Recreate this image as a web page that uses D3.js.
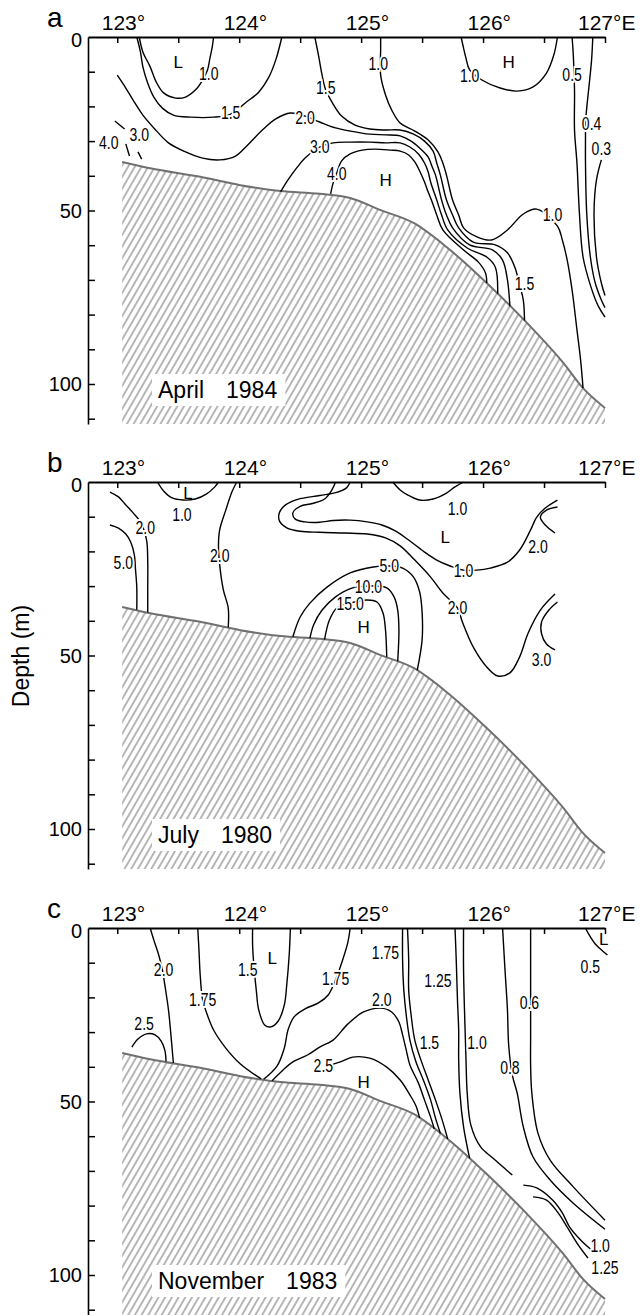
<!DOCTYPE html>
<meta charset="utf-8" />
<script src="https://d3js.org/d3.v7.min.js"></script>
<style>
  body { margin: 0; overflow: hidden; background: white; }
  svg { display: block; }
</style>
<div id="chart"></div>
<script>
  // ---- axes ----
  const lonTicks = [123, 123.5, 124, 124.5, 125, 125.5, 126, 126.5, 127];
  const lonLabels = [[123, "123°"], [124, "124°"], [125, "125°"], [126, "126°"], [127, "127°E"]];
  const depthTicks = [10, 20, 30, 40, 50, 60, 70, 80, 90, 100, 110];
  const depthLabels = [0, 50, 100];

  // bottom profile along the section [lon, depth m]
  const bathymetry = [[123.04,36.0],[123.27,37.8],[123.68,40.3],[124.01,42.7],[124.34,44.4],[124.66,45.2],
    [124.91,46.4],[125.16,49.9],[125.43,53.6],[125.70,60.5],[126.03,70.9],[126.36,82.4],[126.66,94.0],
    [126.82,101.2],[127.00,106.9]];

  // ---- a: April 1984 ----
  const aLines = [
    [[123.18,0],[123.21,4.3],[123.27,8.6],[123.32,13.0],[123.38,16.1],[123.48,17.6],[123.56,17.3],[123.64,15.3],[123.70,12.4],[123.74,9.5],[123.76,6.1],[123.78,2.6],[123.79,0]],
    [[123.16,0],[123.19,4.3],[123.21,8.6],[123.25,13.3],[123.30,17.3],[123.37,20.5],[123.46,22.5],[123.60,23.1],[123.79,23.1],[123.93,22.2],[124.05,19.0],[124.16,15.9],[124.24,11.8],[124.30,6.6],[124.35,0]],
    [[123.00,11.0],[123.07,14.7],[123.13,18.2],[123.21,22.5],[123.30,26.2],[123.42,30.5],[123.56,33.1],[123.70,34.9],[123.84,35.4],[123.97,34.3],[124.07,31.1],[124.19,26.8],[124.30,23.6],[124.42,21.9],[124.54,22.8],[124.66,24.5],[124.79,26.2],[124.91,27.1],[125.07,28.0],[125.20,28.2],[125.32,28.5],[125.41,30.0],[125.48,32.0],[125.55,34.6],[125.58,37.2],[125.61,39.8],[125.66,47.0],[125.70,51.3],[125.75,55.0],[125.89,59.9],[126.08,61.4],[126.16,64.3],[126.20,70.0],[126.22,77.6]],
    [[125.16,0],[125.16,3.7],[125.16,11.0],[125.20,16.7],[125.25,21.0],[125.32,24.8],[125.44,27.1],[125.55,29.7],[125.63,33.1],[125.67,36.3],[125.70,39.8],[125.75,47.0],[125.80,51.3],[125.84,55.0],[125.95,57.6],[126.07,58.5],[126.20,55.6],[126.33,51.0],[126.44,49.6],[126.61,54.5],[126.65,58.5],[126.69,64.3],[126.73,72.9],[126.77,84.4],[126.80,93.1],[126.82,101.2]],
    [[124.62,0],[124.65,5.2],[124.68,11.0],[124.71,15.3],[124.76,18.7],[124.84,22.8],[124.95,25.4],[125.07,26.5],[125.20,26.8],[125.32,26.8],[125.43,28.0],[125.52,30.0],[125.59,32.9],[125.62,36.3],[125.65,39.8],[125.70,47.0],[125.75,51.3],[125.80,55.0],[125.92,59.1],[126.10,59.9],[126.20,62.2],[126.26,66.3],[126.30,71.5],[126.33,75.8],[126.34,81.7]],
    [[124.34,44.6],[124.40,41.2],[124.47,37.8],[124.54,34.9],[124.66,31.7],[124.77,30.5],[124.91,30.3],[125.07,30.3],[125.20,30.5],[125.32,30.5],[125.40,31.7],[125.47,33.7],[125.52,36.3],[125.55,38.9],[125.57,41.8],[125.62,47.0],[125.66,51.3],[125.71,55.6],[125.87,60.8],[126.03,63.4],[126.10,66.3],[126.12,74.0]],
    [[124.75,45.2],[124.77,42.1],[124.80,39.2],[124.84,35.7],[124.91,33.7],[125.01,32.6],[125.11,32.3],[125.24,32.6],[125.32,32.9],[125.39,34.0],[125.44,36.0],[125.48,38.6],[125.52,41.8],[125.55,44.7],[125.58,47.3],[125.62,51.3],[125.67,55.6],[125.84,61.4],[125.96,64.8],[126.02,68.0],[126.03,70.9]],
    [[122.98,24.2],[123.06,26.5]],
    [[123.07,30.8],[123.10,34.3]],
    [[123.17,33.1],[123.20,35.2]],
    [[125.82,0],[125.84,3.2],[125.86,6.1],[125.89,9.5],[125.99,12.4],[126.14,14.7],[126.28,15.6],[126.41,14.4],[126.52,10.4],[126.58,5.2],[126.61,0]],
    [[126.73,0],[126.74,5.2],[126.75,15.3],[126.75,26.8],[126.77,36.3],[126.79,50.7],[126.82,63.4],[126.88,71.5],[126.94,77.2],[127.0,80.7]],
    [[126.90,0],[126.89,6.6],[126.87,13.8],[126.85,20.5],[126.84,24.8],[126.84,28.8],[126.84,36.3],[126.85,50.7],[126.88,63.4],[126.92,70.9],[126.97,75.8],[127.0,78.0]],
    [[126.97,35.4],[126.93,41.2],[126.91,50.7],[126.93,63.4],[126.97,70.9],[127.0,74.5]]
  ];
  const aLabels = [["1.0",123.75,10.4],["L",123.50,7.2],["1.5",123.93,21.9],["2.0",124.54,23.1],["1.5",124.71,14.7],
    ["1.0",125.14,7.5],["3.0",124.66,31.7],["4.0",124.80,39.2],["H",125.20,41.2],["4.0",122.93,30.3],["3.0",123.18,28.2],
    ["1.0",125.89,11.0],["H",126.21,7.2],["0.5",126.73,10.7],["0.4",126.89,24.8],["0.3",126.97,32.0],
    ["1.0",126.57,51.3],["1.5",126.34,71.0]];

  // ---- b: July 1980 ----
  const bLines = [
    [[123.33,0],[123.38,2.6],[123.45,4.6],[123.54,5.2],[123.64,4.9],[123.73,3.5],[123.80,1.4],[123.83,0]],
    [[122.94,2.9],[123.01,4.3],[123.07,6.6],[123.13,8.9],[123.19,11.5],[123.24,16.7],[123.25,23.3],[123.25,30.3],[123.25,37.6]],
    [[122.94,12.4],[123.01,13.3],[123.07,15.0],[123.11,17.3],[123.14,21.0],[123.15,25.4],[123.16,30.3],[123.16,36.8]],
    [[123.98,0],[123.94,2.9],[123.89,8.1],[123.84,13.8],[123.83,18.2],[123.84,23.9],[123.87,31.1],[123.91,36.3],[123.91,41.9]],
    [[124.79,0],[124.76,2.3],[124.70,4.9],[124.60,6.2],[124.50,7.0],[124.44,8.9],[124.46,10.7],[124.54,11.5],[124.66,11.6],[124.77,11.1],[124.91,11.0],[125.05,11.5],[125.17,12.4],[125.28,14.1],[125.40,17.0],[125.52,20.2],[125.62,22.5],[125.73,24.2],[125.84,25.4],[125.95,25.4],[126.06,24.8],[126.20,23.1],[126.30,19.6],[126.39,13.8],[126.44,10.1],[126.51,7.5],[126.61,5.2]],
    [[124.91,0],[124.88,1.7],[124.80,3.0],[124.66,3.9],[124.48,5.0],[124.38,6.6],[124.33,8.8],[124.33,11.2],[124.39,13.2],[124.50,14.2],[124.66,14.5],[124.87,14.7],[125.05,15.0],[125.20,16.1],[125.32,18.4],[125.44,22.5],[125.57,27.4],[125.67,32.0],[125.79,36.3],[125.83,40.3],[125.92,47.6],[126.03,53.3],[126.12,55.9],[126.22,55.0],[126.30,50.4],[126.37,43.5],[126.47,36.9],[126.59,32.3]],
    [[125.26,0],[125.32,2.3],[125.38,3.7],[125.48,5.2],[125.59,4.9],[125.70,3.2],[125.77,1.4],[125.84,0]],
    [[126.61,7.2],[126.52,8.1],[126.47,10.1],[126.51,12.4],[126.59,14.7]],
    [[126.61,34.6],[126.54,36.9],[126.48,40.3],[126.48,43.8],[126.52,46.7],[126.59,48.4]],
    [[124.44,44.6],[124.50,38.9],[124.58,34.9],[124.72,30.3],[124.91,26.2],[125.10,24.5],[125.23,24.2],[125.34,24.8],[125.43,27.4],[125.48,31.7],[125.50,37.5],[125.50,45.5],[125.46,54.3]],
    [[124.58,45.0],[124.61,41.2],[124.68,36.9],[124.79,33.1],[124.93,30.5],[125.06,30.0],[125.21,30.5],[125.27,33.1],[125.30,36.9],[125.31,42.7],[125.30,51.7]],
    [[124.70,45.4],[124.74,39.8],[124.80,36.3],[124.91,34.9],[125.05,34.0],[125.13,34.6],[125.18,37.8],[125.20,42.7],[125.21,50.4]]
  ];
  const bLabels = [["1.0",123.53,9.5],["L",123.58,3.0],["2.0",123.23,13.0],["5.0",123.05,23.3],["2.0",123.84,21.3],
    ["1.0",125.79,7.5],["L",125.69,15.9],["1.0",125.84,25.4],["2.0",126.45,18.7],["5.0",125.23,24.2],
    ["10.0",125.06,30.0],["15.0",124.91,34.9],["H",125.02,41.8],["2.0",125.79,36.3],["3.0",126.48,51.3]];

  // ---- c: November 1983 ----
  const cLines = [
    [[123.27,0],[123.30,3.5],[123.34,7.8],[123.37,12.1],[123.39,16.4],[123.42,23.6],[123.44,30.8],[123.46,38.9]],
    [[123.12,34.3],[123.17,32.0],[123.24,30.5],[123.31,30.8],[123.36,32.6],[123.39,35.2],[123.40,38.4]],
    [[123.66,0],[123.67,6.3],[123.68,13.5],[123.70,20.7],[123.73,24.2],[123.79,29.4],[123.89,34.6],[124.01,39.2],[124.18,43.5]],
    [[124.11,0],[124.11,4.9],[124.12,10.7],[124.14,17.9],[124.16,23.6],[124.21,28.0],[124.26,28.5],[124.32,26.8],[124.37,22.2],[124.39,16.4],[124.41,7.8],[124.42,0]],
    [[124.91,0],[124.89,4.3],[124.84,10.1],[124.79,15.0],[124.73,19.3],[124.65,21.6],[124.54,23.3],[124.45,25.6],[124.40,29.4],[124.37,34.6],[124.31,39.8],[124.20,43.6]],
    [[124.27,44.0],[124.36,40.9],[124.44,38.6],[124.56,36.6],[124.66,34.3],[124.77,32.3],[124.89,27.7],[125.02,24.2],[125.16,23.1],[125.25,24.2],[125.31,27.1],[125.34,30.8],[125.37,35.2],[125.40,39.5],[125.47,44.7],[125.52,49.6],[125.57,54.5],[125.60,57.9]],
    [[124.72,39.8],[124.83,38.6],[124.93,37.2],[125.07,37.5],[125.21,40.1],[125.32,43.8],[125.40,48.1],[125.45,51.3],[125.48,54.8]],
    [[125.34,0],[125.34,9.2],[125.35,17.9],[125.37,25.1],[125.40,32.3],[125.45,38.6],[125.51,43.8],[125.57,49.6],[125.61,54.8],[125.65,59.2]],
    [[125.38,0],[125.39,9.2],[125.39,17.9],[125.41,25.1],[125.44,32.3],[125.49,38.0],[125.55,43.8],[125.61,49.6],[125.66,54.8],[125.71,60.8]],
    [[125.77,0],[125.78,9.2],[125.79,20.7],[125.80,29.4],[125.80,38.0],[125.81,47.6],[125.84,57.3],[125.89,66.4]],
    [[125.84,0],[125.84,12.1],[125.85,26.5],[125.86,38.0],[125.87,47.6],[125.90,56.8],[125.98,63.1],[126.08,66.3],[126.24,71.2]],
    [[126.33,74.1],[126.44,74.9],[126.57,78.4],[126.65,82.1],[126.71,86.2],[126.80,89.9],[126.89,92.8]],
    [[126.41,77.5],[126.52,78.4],[126.61,81.8],[126.69,86.2],[126.77,90.8],[126.86,95.1]],
    [[126.16,0],[126.18,12.1],[126.20,23.6],[126.21,33.7],[126.24,42.4],[126.28,47.6],[126.33,57.3],[126.41,66.0],[126.55,72.6],[126.74,79.3],[127.0,86.8]],
    [[126.39,0],[126.39,12.1],[126.39,21.6],[126.39,31.4],[126.39,39.5],[126.40,47.6],[126.45,59.1],[126.55,66.9],[126.74,74.6],[127.0,84.2]],
    [[126.84,0],[126.87,2.0],[126.92,4.6],[126.98,6.6],[127.02,7.8]]
  ];
  const cLabels = [["2.0",123.38,12.1],["2.5",123.22,27.4],["1.75",123.70,20.5],["1.5",124.07,12.1],["L",124.27,8.6],
    ["1.75",124.79,14.7],["2.0",125.17,20.7],["1.75",125.20,7.2],["2.5",124.69,39.5],["H",125.02,44.4],
    ["1.5",125.56,32.9],["1.25",125.63,15.0],["1.0",125.95,32.9],["0.8",126.22,40.1],["0.6",126.38,21.6],
    ["L",126.99,3.2],["0.5",126.88,11.2],["1.0",126.96,91.4],["1.25",127.0,97.7]];

  const panels = [
    { letter: "a", top: 37, month: "April", year: "1984", lines: aLines, labels: aLabels },
    { letter: "b", top: 482, month: "July", year: "1980", lines: bLines, labels: bLabels },
    { letter: "c", top: 928, month: "November", year: "1983", lines: cLines, labels: cLabels }
  ];

  const width = 644, height = 1315, bottomDepth = 111.5;
  const font = "'Liberation Sans', Arial, Helvetica, sans-serif";

  const svg = d3.select("#chart").append("svg")
    .attr("width", width).attr("height", height)
    .style("background", "white")
    .style("font-family", font);

  const x = d3.scaleLinear().domain([122.76, 127]).range([88, 605]);

  // hatch for the sea bottom
  const pat = svg.append("defs").append("pattern")
    .attr("id", "hatch").attr("patternUnits", "userSpaceOnUse")
    .attr("width", 5.8).attr("height", 10)
    .attr("patternTransform", "rotate(30)");
  pat.append("line").attr("x1", 2.9).attr("x2", 2.9).attr("y1", 0).attr("y2", 10)
    .attr("stroke", "#6e6e6e").attr("stroke-width", 1);

  panels.forEach(p => {
    const y = d3.scaleLinear().domain([0, 100]).range([p.top, p.top + 347]);
    const g = svg.append("g");

    // sea bottom
    g.append("path").datum(bathymetry)
      .attr("d", d3.area().x(d => x(d[0])).y0(y(bottomDepth)).y1(d => y(d[1])).curve(d3.curveMonotoneX))
      .attr("fill", "url(#hatch)");
    g.append("path").datum(bathymetry)
      .attr("d", d3.line().x(d => x(d[0])).y(d => y(d[1])).curve(d3.curveMonotoneX))
      .attr("fill", "none").attr("stroke", "#707070").attr("stroke-width", 2);

    // isolines
    const line = d3.line().x(d => x(d[0])).y(d => y(d[1])).curve(d3.curveCatmullRom.alpha(0.5));
    g.selectAll(".iso").data(p.lines).join("path")
      .attr("class", "iso")
      .attr("d", line)
      .attr("fill", "none").attr("stroke", "black").attr("stroke-width", 1.4);

    // isoline labels
    g.selectAll(".lab").data(p.labels).join("text")
      .attr("class", "lab")
      .attr("transform", d => {
        const hl = d[0] === "H" || d[0] === "L";
        return `translate(${x(d[1])},${y(d[2])}) scale(${hl ? 1 : 0.78},1)`;
      })
      .attr("text-anchor", "middle").attr("dy", "0.36em")
      .style("font-size", d => (d[0] === "H" || d[0] === "L") ? "17px" : "18px")
      .attr("stroke", d => (d[0] === "H" || d[0] === "L") ? "none" : "white")
      .attr("stroke-width", 4).attr("paint-order", "stroke")
      .text(d => d[0]);

    // top axis
    const top = g.append("g").attr("transform", `translate(0,${p.top})`)
      .call(d3.axisTop(x).tickValues(lonTicks).tickSize(-6).tickSizeOuter(0).tickFormat(""));
    top.select(".domain").attr("stroke-width", 2);
    top.selectAll(".tick line").attr("stroke-width", 1.5);

    g.selectAll(".lon").data(lonLabels).join("text")
      .attr("class", "lon")
      .attr("x", (d, i) => x(d[0]) - (i === lonLabels.length - 1 ? 27 : 15.5))
      .attr("y", p.top - 7)
      .style("font-size", "21px")
      .text(d => d[1]);

    // depth axis
    const yAxis = d3.scaleLinear().domain([0, bottomDepth]).range([y(0), y(bottomDepth)]);
    const left = g.append("g").attr("transform", "translate(88,0)")
      .call(d3.axisLeft(yAxis).tickValues(depthTicks).tickSize(-7).tickSizeOuter(0).tickFormat(""));
    left.select(".domain").attr("stroke-width", 1.6);
    left.selectAll(".tick line").attr("stroke-width", 1.5);

    g.selectAll(".dep").data(depthLabels).join("text")
      .attr("class", "dep")
      .attr("x", 82).attr("y", d => y(d) + (d === 0 ? 3 : 0))
      .attr("dy", "0.36em").attr("text-anchor", "end")
      .style("font-size", "20px")
      .text(d => d);

    // panel letter
    g.append("text").attr("x", 47).attr("y", p.top - 10)
      .style("font-size", "28px").text(p.letter);

    // month / year box
    const t = g.append("text").attr("x", 158).attr("y", p.top + 361)
      .style("font-size", "23px");
    t.append("tspan").text(p.month);
    t.append("tspan").attr("dx", 22).text(p.year);
    const bb = t.node().getBBox();
    g.insert("rect", () => t.node())
      .attr("x", bb.x - 6).attr("y", bb.y - 3)
      .attr("width", bb.width + 14).attr("height", bb.height + 6)
      .attr("fill", "white");
  });

  svg.append("text")
    .attr("transform", "translate(29,656) rotate(-90)")
    .attr("text-anchor", "middle")
    .style("font-size", "23px")
    .text("Depth (m)");
</script>
